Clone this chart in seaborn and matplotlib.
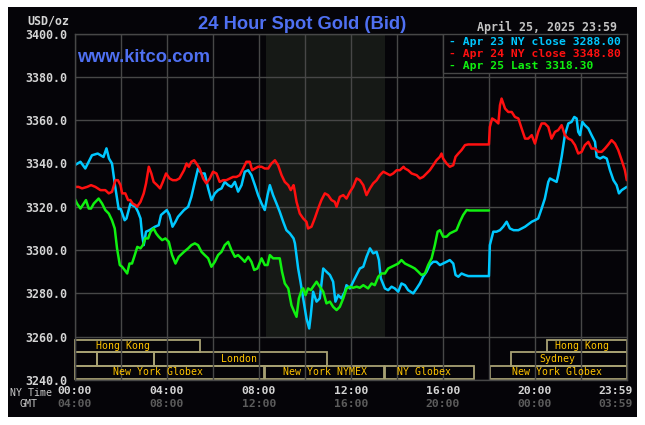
import pandas as pd
import seaborn as sns
import matplotlib.pyplot as plt
import matplotlib.transforms as mtransforms
from matplotlib.patches import Rectangle

# (hour of NY day, bid USD/oz)
apr23 = [(0, 3339.2), (0.25, 3340.8), (0.46, 3337.7), (0.75, 3343.8), (1.0, 3344.6), (1.25, 3343.0),
         (1.38, 3347.0), (1.49, 3342.3), (1.62, 3340.0), (1.75, 3330.0), (1.91, 3319.0), (2.0, 3319.0),
         (2.17, 3313.8), (2.25, 3314.6), (2.42, 3321.5), (2.49, 3320.8), (2.64, 3320.0), (2.75, 3317.7),
         (2.86, 3314.6), (2.93, 3307.0), (3.0, 3302.3), (3.1, 3308.5), (3.25, 3309.2), (3.49, 3310.8),
         (3.65, 3311.5), (3.75, 3316.2), (4.0, 3318.5), (4.12, 3316.2), (4.25, 3310.8), (4.38, 3313.1),
         (4.49, 3315.4), (4.75, 3318.5), (4.93, 3320.0), (5.07, 3324.6), (5.22, 3331.5), (5.36, 3337.7),
         (5.51, 3335.4), (5.65, 3335.4), (5.8, 3328.5), (5.94, 3323.1), (6.09, 3326.2), (6.23, 3327.7),
         (6.38, 3328.5), (6.52, 3331.5), (6.67, 3330.0), (6.81, 3329.2), (6.96, 3331.5), (7.1, 3327.0),
         (7.25, 3330.0), (7.39, 3336.2), (7.54, 3336.9), (7.68, 3334.6), (7.83, 3330.0), (7.97, 3325.4),
         (8.12, 3321.5), (8.26, 3318.5), (8.38, 3325.4), (8.48, 3330.0), (8.62, 3325.4), (8.77, 3321.5),
         (8.91, 3317.7), (9.06, 3313.1), (9.2, 3309.2), (9.35, 3307.7), (9.51, 3305.4), (9.57, 3303.1),
         (9.71, 3291.5), (9.81, 3285.4), (9.93, 3277.7), (10.07, 3268.5), (10.19, 3263.8), (10.26, 3270.0),
         (10.36, 3280.8), (10.51, 3276.2), (10.65, 3277.7), (10.8, 3291.5), (10.94, 3290.0), (11.09, 3288.5),
         (11.23, 3285.4), (11.33, 3276.2), (11.45, 3279.2), (11.59, 3277.7), (11.74, 3280.8), (11.81, 3283.8),
         (11.96, 3282.3), (12.1, 3285.4), (12.25, 3288.5), (12.39, 3291.5), (12.54, 3292.3), (12.68, 3296.9),
         (12.83, 3300.8), (12.97, 3298.5), (13.12, 3299.2), (13.22, 3295.4), (13.3, 3287.0), (13.48, 3282.3),
         (13.62, 3281.5), (13.77, 3283.1), (13.91, 3282.3), (14.06, 3280.8), (14.2, 3284.6), (14.35, 3283.8),
         (14.49, 3281.5), (14.71, 3280.0), (14.86, 3282.3), (15.0, 3284.6), (15.14, 3287.7), (15.29, 3290.0),
         (15.43, 3293.1), (15.58, 3294.6), (15.72, 3294.6), (15.87, 3293.1), (16.01, 3293.8), (16.16, 3294.6),
         (16.3, 3295.4), (16.45, 3293.8), (16.55, 3288.5), (16.67, 3287.7), (16.81, 3289.2), (16.96, 3288.5),
         (17.1, 3288.0), (18.0, 3288.0), (18.04, 3302.3), (18.19, 3308.5), (18.33, 3308.5), (18.48, 3309.2),
         (18.62, 3310.8), (18.77, 3313.1), (18.91, 3310.0), (19.07, 3309.2), (19.28, 3309.2), (19.57, 3310.8),
         (19.86, 3313.1), (20.0, 3313.8), (20.14, 3314.6), (20.29, 3319.2), (20.43, 3323.8), (20.58, 3331.5),
         (20.65, 3333.1), (20.8, 3332.3), (20.94, 3331.5), (21.01, 3334.6), (21.16, 3343.1), (21.3, 3353.1),
         (21.45, 3358.5), (21.59, 3359.2), (21.71, 3361.5), (21.81, 3360.8), (21.88, 3354.6), (21.96, 3353.1),
         (22.06, 3359.2), (22.17, 3357.7), (22.32, 3356.2), (22.46, 3353.1), (22.61, 3350.0), (22.68, 3343.1),
         (22.83, 3342.3), (22.97, 3343.1), (23.12, 3342.3), (23.26, 3336.9), (23.41, 3332.3), (23.55, 3330.0),
         (23.65, 3326.2), (23.77, 3327.7), (23.99, 3329.2)]

apr24 = [(0, 3329.2), (0.17, 3329.2), (0.32, 3328.5), (0.54, 3329.2), (0.71, 3330.0), (0.9, 3329.2),
         (1.12, 3327.7), (1.33, 3327.7), (1.48, 3326.2), (1.62, 3326.9), (1.77, 3332.3), (1.88, 3332.3),
         (1.99, 3330.0), (2.06, 3326.2), (2.2, 3326.2), (2.32, 3323.1), (2.42, 3323.1), (2.52, 3321.5),
         (2.64, 3320.8), (2.71, 3320.0), (2.86, 3322.3), (3.0, 3326.2), (3.1, 3330.8), (3.22, 3338.5),
         (3.33, 3335.4), (3.43, 3331.5), (3.58, 3330.0), (3.71, 3328.5), (3.83, 3331.5), (3.97, 3335.4),
         (4.12, 3333.1), (4.26, 3332.3), (4.41, 3332.3), (4.55, 3333.1), (4.75, 3336.9), (4.86, 3340.0),
         (4.96, 3338.5), (5.07, 3340.8), (5.19, 3341.5), (5.29, 3340.0), (5.43, 3337.7), (5.58, 3333.1),
         (5.72, 3330.8), (5.87, 3333.1), (6.01, 3336.2), (6.16, 3335.4), (6.3, 3331.5), (6.45, 3332.3),
         (6.59, 3332.3), (6.74, 3333.1), (6.88, 3333.8), (7.03, 3333.8), (7.17, 3334.6), (7.32, 3337.7),
         (7.46, 3340.8), (7.61, 3340.8), (7.71, 3336.9), (7.83, 3337.7), (7.97, 3338.5), (8.12, 3338.5),
         (8.26, 3337.7), (8.41, 3337.7), (8.55, 3340.0), (8.7, 3341.5), (8.84, 3339.2), (8.99, 3334.6),
         (9.13, 3331.5), (9.28, 3330.0), (9.39, 3327.7), (9.51, 3330.0), (9.54, 3328.5), (9.64, 3322.3),
         (9.78, 3316.9), (9.93, 3314.6), (10.07, 3313.1), (10.14, 3310.0), (10.29, 3310.8), (10.43, 3314.6),
         (10.58, 3319.2), (10.72, 3323.1), (10.87, 3326.2), (11.01, 3325.4), (11.16, 3323.1), (11.3, 3322.3),
         (11.38, 3320.0), (11.52, 3324.6), (11.67, 3325.4), (11.81, 3323.8), (11.96, 3326.9), (12.1, 3329.2),
         (12.25, 3333.1), (12.39, 3332.3), (12.54, 3330.0), (12.68, 3325.4), (12.83, 3328.5), (12.97, 3330.8),
         (13.12, 3332.3), (13.26, 3334.6), (13.41, 3336.2), (13.55, 3335.4), (13.7, 3334.6), (13.84, 3335.4),
         (13.99, 3336.9), (14.13, 3336.9), (14.29, 3338.5), (14.35, 3337.7), (14.49, 3336.9), (14.64, 3335.4),
         (14.86, 3334.6), (15.0, 3333.1), (15.14, 3333.8), (15.29, 3335.4), (15.43, 3336.9), (15.58, 3339.2),
         (15.72, 3341.5), (15.87, 3343.1), (15.94, 3344.6), (16.01, 3342.3), (16.16, 3340.0), (16.3, 3338.5),
         (16.45, 3339.2), (16.55, 3343.1), (16.67, 3344.6), (16.81, 3346.2), (16.96, 3348.5), (17.1, 3348.8),
         (18.0, 3348.8), (18.04, 3356.9), (18.14, 3360.8), (18.26, 3360.0), (18.41, 3358.5), (18.48, 3366.9),
         (18.55, 3370.0), (18.7, 3365.4), (18.84, 3363.8), (18.99, 3363.8), (19.13, 3361.5), (19.28, 3360.8),
         (19.42, 3356.2), (19.57, 3351.5), (19.71, 3351.5), (19.86, 3353.1), (20.0, 3349.2), (20.14, 3354.6),
         (20.29, 3358.5), (20.43, 3358.5), (20.58, 3356.9), (20.72, 3351.5), (20.87, 3354.6), (21.01, 3355.4),
         (21.16, 3357.7), (21.3, 3353.1), (21.45, 3351.5), (21.59, 3350.8), (21.74, 3348.5), (21.88, 3344.6),
         (22.03, 3345.4), (22.17, 3348.5), (22.32, 3350.0), (22.46, 3346.9), (22.61, 3346.9), (22.75, 3345.4),
         (22.9, 3345.4), (23.04, 3346.9), (23.19, 3348.8), (23.33, 3350.8), (23.48, 3349.2), (23.62, 3346.2),
         (23.77, 3341.5), (23.91, 3336.9), (23.99, 3332.3)]

apr25 = [(0, 3323.8), (0.1, 3321.5), (0.25, 3319.2), (0.39, 3321.5), (0.49, 3323.1), (0.61, 3319.2),
         (0.71, 3319.2), (0.83, 3321.5), (1.04, 3323.8), (1.19, 3321.5), (1.33, 3318.5), (1.48, 3316.9),
         (1.62, 3313.8), (1.74, 3310.0), (1.84, 3300.8), (1.96, 3293.1), (2.06, 3292.3), (2.17, 3290.8),
         (2.28, 3289.2), (2.38, 3293.8), (2.49, 3293.8), (2.61, 3297.7), (2.72, 3301.5), (2.86, 3300.8),
         (2.96, 3302.3), (3.07, 3305.4), (3.19, 3305.4), (3.3, 3308.5), (3.43, 3310.0), (3.54, 3307.7),
         (3.65, 3306.2), (3.8, 3304.6), (3.94, 3305.4), (4.09, 3303.8), (4.23, 3297.7), (4.38, 3293.8),
         (4.52, 3296.9), (4.75, 3299.2), (4.93, 3300.8), (5.07, 3302.3), (5.22, 3303.1), (5.36, 3302.3),
         (5.51, 3299.2), (5.65, 3297.7), (5.8, 3296.2), (5.94, 3292.3), (6.09, 3294.6), (6.23, 3297.7),
         (6.38, 3299.2), (6.52, 3302.3), (6.67, 3303.8), (6.81, 3300.0), (6.96, 3296.9), (7.1, 3297.7),
         (7.25, 3296.2), (7.39, 3294.6), (7.54, 3296.9), (7.68, 3294.6), (7.8, 3290.8), (7.94, 3291.5),
         (8.12, 3296.2), (8.26, 3293.1), (8.38, 3293.1), (8.48, 3297.7), (8.62, 3296.2), (8.77, 3296.2),
         (8.91, 3296.2), (9.01, 3290.0), (9.13, 3284.6), (9.28, 3282.3), (9.42, 3274.5), (9.54, 3271.5),
         (9.64, 3269.2), (9.74, 3277.7), (9.86, 3281.5), (9.93, 3282.3), (10.03, 3279.2), (10.14, 3282.3),
         (10.26, 3281.5), (10.36, 3283.1), (10.51, 3285.4), (10.65, 3283.1), (10.8, 3280.8), (10.94, 3275.4),
         (11.09, 3276.2), (11.23, 3273.8), (11.38, 3272.3), (11.52, 3273.8), (11.67, 3277.7), (11.81, 3282.3),
         (11.96, 3283.1), (12.1, 3282.6), (12.25, 3283.1), (12.39, 3282.6), (12.54, 3283.8), (12.75, 3282.3),
         (12.9, 3284.6), (13.04, 3283.8), (13.19, 3287.7), (13.33, 3289.2), (13.48, 3289.2), (13.62, 3291.5),
         (13.77, 3292.3), (13.91, 3293.1), (14.06, 3293.8), (14.2, 3295.4), (14.35, 3293.8), (14.49, 3293.1),
         (14.64, 3292.3), (14.78, 3291.5), (14.93, 3290.0), (15.07, 3288.5), (15.22, 3289.2), (15.36, 3293.1),
         (15.51, 3296.2), (15.65, 3302.3), (15.77, 3308.5), (15.87, 3309.2), (16.01, 3306.2), (16.16, 3306.2),
         (16.3, 3307.7), (16.45, 3308.5), (16.59, 3309.2), (16.74, 3313.1), (16.88, 3316.2), (17.03, 3318.5),
         (17.17, 3318.3), (18.0, 3318.3)]

series_names = ['Apr 23 NY close 3288.00', 'Apr 24 NY close 3348.80', 'Apr 25 Last 3318.30']
series_colors = ['#00c8ff', '#ff1010', '#10f010']

ny_ticks = ['00:00', '04:00', '08:00', '12:00', '16:00', '20:00', '23:59']
gmt_ticks = ['04:00', '08:00', '12:00', '16:00', '20:00', '00:00', '03:59']
tick_hours = [0, 4, 8, 12, 16, 20, 23.5]

# market sessions: name, start hour, end hour, row (0 top), label hour
session_names = ['Hong Kong', 'Hong Kong', '', '', 'London', 'Sydney',
                 'New York Globex', 'New York NYMEX', 'NY Globex', 'New York Globex']
session_start = [0, 20.52, 0, 0.96, 3.46, 18.97, 0, 8.28, 13.48, 18.05]
session_end = [5.45, 24, 0.96, 3.46, 10.96, 24, 8.24, 13.46, 17.35, 24]
session_row = [0, 0, 1, 1, 1, 1, 2, 2, 2, 2]
session_label_hour = [2.1, 22.05, 0, 0, 7.15, 20.97, 3.63, 10.88, 15.2, 20.97]

W, H = 645, 425
BG = '#050408'
GRID = '#474747'
MONO = 'DejaVu Sans Mono'

sns.set_style('dark')
plt.rcParams['font.family'] = ['DejaVu Sans']

fig = plt.figure(figsize=(W / 100, H / 100), dpi=100, facecolor='white')


def fx(x):
    return x / W


def fy(y):
    return 1 - y / H


fig.add_artist(Rectangle((fx(8), fy(416.7)), fx(629), (416.7 - 7) / H,
                         transform=fig.transFigure, facecolor=BG, edgecolor='none', zorder=-5))

ax = fig.add_axes([fx(74.7), fy(380), (627 - 74.7) / W, (380 - 33.6) / H])
ax.set_facecolor(BG)
ax.set_xlim(0, 24)
ax.set_ylim(3240, 3400)
ax.set_axisbelow('line')

# NYMEX pit hours shading
ax.axvspan(8.33, 13.5, ymin=0.125, ymax=1, color='#161916', lw=0, zorder=0.2)

for data, color in zip([apr23, apr24, apr25], series_colors):
    df = pd.DataFrame(data, columns=['hour', 'price'])
    sns.lineplot(data=df, x='hour', y='price', color=color, lw=1.8, ax=ax,
                 estimator=None, sort=False, zorder=2)

ax.set_xticks(range(0, 25, 2))
ax.set_yticks(range(3240, 3401, 20))
ax.set_xticklabels([])
ax.set_yticklabels(['{:.1f}'.format(v) for v in range(3240, 3401, 20)],
                   fontfamily=MONO, fontweight='bold', fontsize=8.4, color='#d4d4d4')
ax.tick_params(length=0, pad=5.5)
ax.grid(True, color=GRID, lw=1)
for s in ax.spines.values():
    s.set_color(GRID)
    s.set_linewidth(1)
ax.set_xlabel('')
ax.set_ylabel('')

# session boxes
row_bottom = [3252.8, 3246.5, 3240.5]
row_top = [3258.5, 3252.8, 3246.5]
for name, s0, s1, row, lh in zip(session_names, session_start, session_end, session_row, session_label_hour):
    ax.add_patch(Rectangle((s0, row_bottom[row]), s1 - s0, row_top[row] - row_bottom[row],
                           facecolor='none', edgecolor='#a8a274', lw=1.3, zorder=1.2, clip_on=False))
    if name:
        ax.text(lh, (row_bottom[row] + row_top[row]) / 2, name, ha='center', va='center',
                fontfamily=MONO, fontsize=7.1, color='#ffc400', zorder=3)

# legend box
ax.add_patch(Rectangle((16.01, 3381.8), 7.99, 18.2, facecolor=BG, edgecolor=GRID, lw=1, zorder=4))
for i, (name, color) in enumerate(zip(series_names, series_colors)):
    fig.text(fx(449), fy(45 + 11.8 * i), '- ' + name, ha='left', va='baseline',
             fontfamily=MONO, fontweight='bold', fontsize=8.2, color=color, zorder=5)

# titles and captions
fig.text(fx(302), fy(29.3), '24 Hour Spot Gold (Bid)', ha='center', va='baseline',
         fontfamily='Liberation Sans', fontweight='bold', fontsize=13.2, color='#4f70f2')
fig.text(fx(77), fy(61.7), 'www.kitco.com', ha='left', va='baseline',
         fontfamily='Liberation Sans', fontweight='bold', fontsize=13.2, color='#4f70f2')
fig.text(fx(69), fy(25), 'USD/oz', ha='right', va='baseline',
         fontfamily=MONO, fontweight='bold', fontsize=8.4, color='#d4d4d4')
fig.text(fx(617), fy(31.5), 'April 25, 2025 23:59', ha='right', va='baseline',
         fontfamily=MONO, fontweight='bold', fontsize=8.4, color='#c4c4c4')

trans = mtransforms.blended_transform_factory(ax.transData, fig.transFigure)
for h, ny, gmt in zip(tick_hours, ny_ticks, gmt_ticks):
    ax.text(h, fy(394), ny, transform=trans, ha='center', va='baseline',
            fontfamily=MONO, fontweight='bold', fontsize=8.2, color='#d4d4d4')
    ax.text(h, fy(407), gmt, transform=trans, ha='center', va='baseline',
            fontfamily=MONO, fontweight='bold', fontsize=8.2, color='#5c5c5c')
fig.text(fx(10), fy(395.5), 'NY Time', ha='left', va='baseline',
         fontfamily=MONO, fontsize=7.2, color='#c8c8c8')
fig.text(fx(19), fy(407), 'GMT', ha='left', va='baseline',
         fontfamily=MONO, fontsize=7.2, color='#c8c8c8')

fig.savefig('out.png', dpi=100, facecolor='white')
